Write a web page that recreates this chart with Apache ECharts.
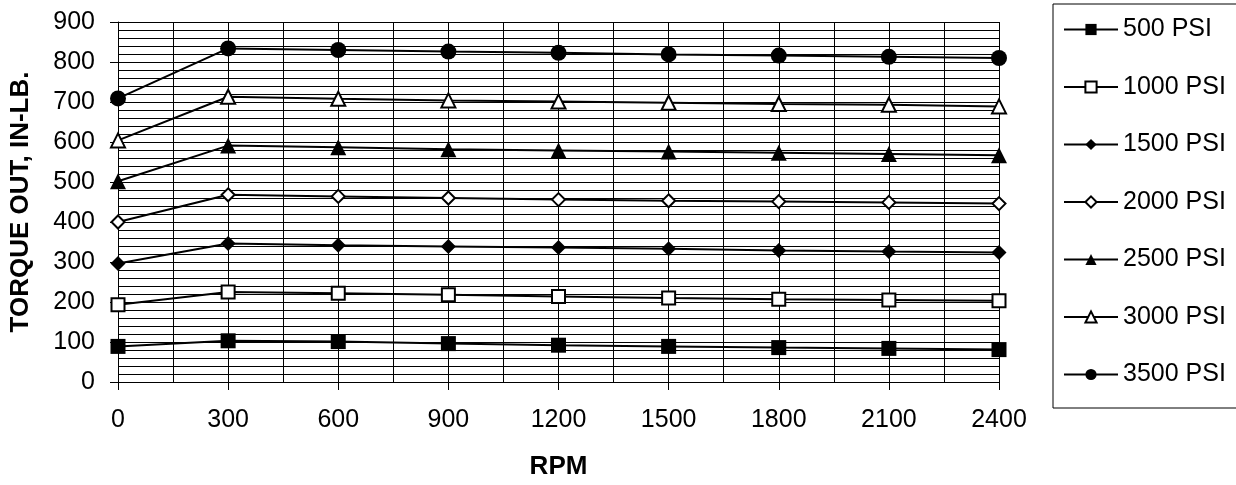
<!DOCTYPE html>
<html>
<head>
<meta charset="utf-8">
<script src="https://cdn.jsdelivr.net/npm/echarts@6/dist/echarts.min.js"></script>
<style>
html,body{margin:0;padding:0;background:#fff;}
#chart{width:1236px;height:485px;}
</style>
</head>
<body>
<div id="chart"></div>
<script>
const rpm = [0, 300, 600, 900, 1200, 1500, 1800, 2100, 2400];
const psi500  = [89, 103, 101, 96, 92, 89, 86, 84, 81];
const psi1000 = [193, 225, 222, 218, 214, 210, 207, 205, 203];
const psi1500 = [296, 346, 342, 339, 336, 333, 329, 326, 324];
const psi2000 = [400, 468, 464, 460, 456, 453, 451, 449, 446];
const psi2500 = [502, 591, 587, 582, 579, 576, 573, 570, 567];
const psi3000 = [604, 713, 708, 704, 701, 698, 695, 693, 689];
const psi3500 = [709, 834, 830, 826, 823, 819, 816, 813, 810];
const seriesNames = ['500 PSI','1000 PSI','1500 PSI','2000 PSI','2500 PSI','3000 PSI','3500 PSI'];
const seriesValues = [psi500, psi1000, psi1500, psi2000, psi2500, psi3000, psi3500];

const FONT = "'Liberation Sans', Arial, sans-serif";
const markers = [
  {symbol:'rect', size:15, fill:'#000', bw:0},
  {symbol:'rect', size:13, fill:'#fff', bw:2},
  {symbol:'diamond', size:15, fill:'#000', bw:0},
  {symbol:'diamond', size:13, fill:'#fff', bw:2},
  {symbol:'triangle', size:16, fill:'#000', bw:0},
  {symbol:'triangle', size:14, fill:'#fff', bw:2},
  {symbol:'circle', size:16, fill:'#000', bw:0}
];

const series = seriesNames.map((name, i) => ({
  name: name,
  type: 'line',
  data: rpm.map((x, j) => [x, seriesValues[i][j]]),
  symbol: markers[i].symbol,
  symbolSize: markers[i].size,
  showAllSymbol: true,
  clip: false,
  animation: false,
  lineStyle: {color:'#000', width:2},
  itemStyle: {color: markers[i].fill, borderColor:'#000', borderWidth: markers[i].bw, opacity:1},
  emphasis: {disabled: true}
}));

const chart = echarts.init(document.getElementById('chart'), null, {renderer:'canvas'});
chart.setOption({
  animation: false,
  backgroundColor: '#fff',
  grid: {left:114, right:237, top:22, bottom:98},
  legend: {
    orient: 'vertical',
    left: 1053, top: 4,
    data: seriesNames,
    borderColor: '#000', borderWidth: 1,
    padding: [13, 14, 21, 10],
    itemWidth: 54, itemHeight: 14, itemGap: 32.5,
    textStyle: {fontFamily: FONT, fontSize: 25, color:'#000', lineHeight: 24},
    selectedMode: false
  },
  xAxis: {
    type: 'value', min: 0, max: 2400, interval: 300,
    name: 'RPM', nameLocation: 'middle', nameGap: 72,
    nameTextStyle: {fontFamily: FONT, fontSize: 26, fontWeight: 'bold', color:'#000'},
    axisLine: {show:true, lineStyle:{color:'#000', width:1}},
    axisTick: {show:true, length:8, lineStyle:{color:'#000'}},
    axisLabel: {fontFamily: FONT, fontSize: 25, color:'#000', margin: 26, formatter: v => String(v)},
    splitLine: {show:true, lineStyle:{color:'#000', width:1}},
    minorTick: {show:false, splitNumber:2},
    minorSplitLine: {show:true, lineStyle:{color:'#000', width:1}}
  },
  yAxis: {
    type: 'value', min: 0, max: 900, interval: 100,
    name: 'TORQUE OUT, IN-LB.', nameLocation: 'middle', nameGap: 84,
    nameTextStyle: {fontFamily: FONT, fontSize: 26, fontWeight: 'bold', color:'#000'},
    axisLine: {show:true, lineStyle:{color:'#000', width:1}},
    axisTick: {show:true, length:8, lineStyle:{color:'#000'}},
    axisLabel: {fontFamily: FONT, fontSize: 25, color:'#000', margin: 23, formatter: v => String(v)},
    splitLine: {show:true, lineStyle:{color:'#000', width:1}},
    minorTick: {show:false, splitNumber:5},
    minorSplitLine: {show:true, lineStyle:{color:'#000', width:1}}
  },
  series: series
});
</script>
</body>
</html>
